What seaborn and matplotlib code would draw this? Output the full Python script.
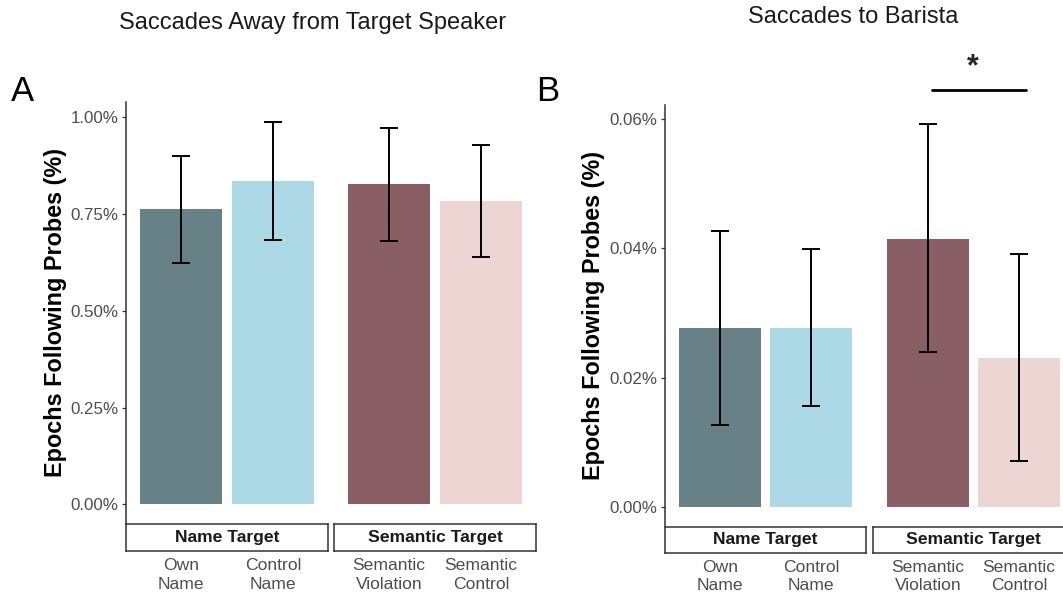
import numpy as np
import pandas as pd
import matplotlib
matplotlib.use("Agg")
import matplotlib.pyplot as plt
import seaborn as sns

# ---------------- data ----------------
conditions = ["Own\nName", "Control\nName", "Semantic\nViolation", "Semantic\nControl"]
groups = ["Name Target", "Name Target", "Semantic Target", "Semantic Target"]
group_order = ["Name Target", "Semantic Target"]
colors = ["#678187", "#ADD8E6", "#8A5E65", "#ECD5D2"]

away_mean = [0.762, 0.835, 0.827, 0.785]
away_lower = [0.624, 0.682, 0.681, 0.640]
away_upper = [0.900, 0.989, 0.973, 0.928]
away_ticks = [0.0, 0.25, 0.50, 0.75, 1.00]

barista_mean = [0.0277, 0.0277, 0.0415, 0.0230]
barista_lower = [0.0127, 0.0156, 0.0239, 0.0071]
barista_upper = [0.0427, 0.0399, 0.0593, 0.0391]
barista_ticks = [0.0, 0.02, 0.04, 0.06]

titles = ["Saccades Away from Target Speaker", "Saccades to Barista"]
panel_letters = ["A", "B"]
ylabel = "Epochs Following Probes (%)"
sig_label = "*"
sig_y = 0.0645
star_y = 0.0668

# ---------------- style ----------------
sns.set_style("white")
plt.rcParams["font.family"] = ["Liberation Sans", "DejaVu Sans"]

W, H = 1063, 594
fig = plt.figure(figsize=(W / 100, H / 100), dpi=100)


def px_axes(x0, x1, y0, y1):
    return fig.add_axes([x0 / W, 1 - y1 / H, (x1 - x0) / W, (y1 - y0) / H])


AX_COL = "#333333"
TXT_COL = "#4D4D4D"

panels = [
    dict(mean=away_mean, lower=away_lower, upper=away_upper, ticks=away_ticks,
         facets=[(126, 328), (334, 536)], py=(102.4, 523.5), sy=(524, 551),
         title_xy=(313, 29), letter_xy=(11, 101), ylab_xy=(56, 312.5), sig=False),
    dict(mean=barista_mean, lower=barista_lower, upper=barista_upper, ticks=barista_ticks,
         facets=[(665, 866), (873, 1074)], py=(104.7, 525.9), sy=(526.7, 552.7),
         title_xy=(853, 23), letter_xy=(536, 101), ylab_xy=(593.5, 315), sig=True),
]

for pi, P in enumerate(panels):
    df = pd.DataFrame({"condition": conditions, "group": groups,
                       "mean": P["mean"], "lower": P["lower"], "upper": P["upper"],
                       "color": colors})
    top = max(P["upper"])
    ylim = (-0.05 * top, 1.05 * top)
    for gi, grp in enumerate(group_order):
        sub = df[df["group"] == grp].reset_index(drop=True)
        x0, x1 = P["facets"][gi]
        ax = px_axes(x0, x1, P["py"][0], P["py"][1])
        sns.barplot(data=sub, x="condition", y="mean", hue="condition",
                    order=list(sub["condition"]), hue_order=list(sub["condition"]),
                    palette=dict(zip(sub["condition"], sub["color"])),
                    width=0.9, saturation=1, errorbar=None, legend=False,
                    linewidth=0, ax=ax)
        pos = np.arange(len(sub))
        ax.errorbar(pos, sub["mean"],
                    yerr=[sub["mean"] - sub["lower"], sub["upper"] - sub["mean"]],
                    fmt="none", ecolor="black", elinewidth=1.4, capsize=6.5,
                    capthick=1.4, zorder=3, clip_on=False)
        ax.set_xlim(-0.6, len(sub) - 0.4)
        ax.set_ylim(*ylim)
        ax.set_xlabel("")
        ax.set_ylabel("")
        ax.tick_params(axis="x", bottom=False, labelbottom=False)
        for s in ["top", "right", "bottom"]:
            ax.spines[s].set_visible(False)
        if gi == 0:
            ax.spines["left"].set_color(AX_COL)
            ax.spines["left"].set_linewidth(1.1)
            ax.set_yticks(P["ticks"])
            ax.set_yticklabels([f"{t:.2f}%" for t in P["ticks"]])
            ax.tick_params(axis="y", left=True, length=2.9, width=0.9, color=AX_COL,
                           labelsize=12.2, labelcolor=TXT_COL, pad=2.5)
        else:
            ax.spines["left"].set_visible(False)
            ax.set_yticks([])
            if P["sig"]:
                ax.plot([pos[0] + 0.05, pos[1] + 0.08], [sig_y, sig_y],
                        color="black", lw=2.0, clip_on=False)
                ax.text((pos[0] + pos[1]) / 2 - 0.01, star_y, sig_label,
                        ha="center", va="baseline", fontsize=22, fontweight="bold",
                        clip_on=False)

        # strip below the facet with the category tick labels
        sax = px_axes(x0, x1, P["sy"][0], P["sy"][1])
        sax.set_facecolor("white")
        sax.set_xlim(-0.6, len(sub) - 0.4)
        sax.set_ylim(0, 1)
        sax.set_yticks([])
        sax.set_xticks(pos)
        sax.set_xticklabels(sub["condition"])
        sax.tick_params(axis="x", length=2.5, width=0.8, color=TXT_COL,
                        labelsize=12.6, labelcolor=TXT_COL, pad=2.5)
        for lab in sax.get_xticklabels():
            lab.set_linespacing(1.3)
        for sp in sax.spines.values():
            sp.set_color(AX_COL)
            sp.set_linewidth(1.1)
            sp.set_visible(True)
        sax.text(0.5, 0.5, grp, transform=sax.transAxes, ha="center", va="center",
                 fontsize=12.6, fontweight="bold", color="#1A1A1A")

    tx, ty = P["title_xy"]
    fig.text(tx / W, 1 - ty / H, titles[pi], ha="center", va="baseline",
             fontsize=17, color="#1A1A1A")
    lx, ly = P["letter_xy"]
    fig.text(lx / W, 1 - ly / H, panel_letters[pi], ha="left", va="baseline",
             fontsize=25, color="black")
    yx, yy = P["ylab_xy"]
    fig.text(yx / W, 1 - yy / H, ylabel, rotation=90, ha="center", va="center",
             fontsize=16.8, fontweight="bold", color="black")

fig.savefig("out.png", dpi=100, facecolor="white")
